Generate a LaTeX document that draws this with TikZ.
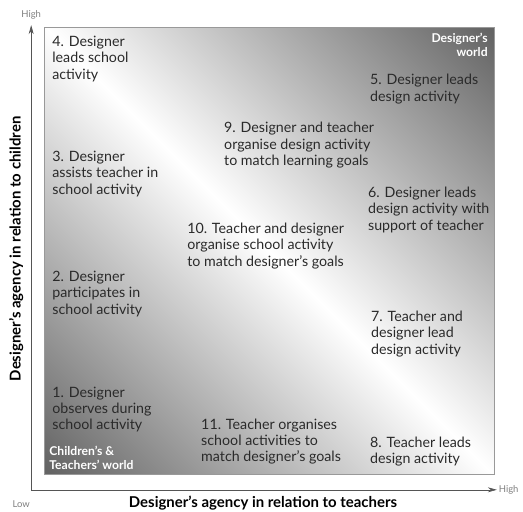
\documentclass[tikz,border=0pt]{standalone}
\usepackage{fontspec}
\setmainfont{Lato}
\usetikzlibrary{arrows.meta}

\definecolor{txt}{HTML}{2a2a2a}
\definecolor{shadedark}{HTML}{646464}
\definecolor{axisgray}{HTML}{555555}
\pgfdeclarehorizontalshading{agency}{100bp}{color(0bp)=(shadedark); color(15bp)=(shadedark); color(50bp)=(white); color(85bp)=(shadedark); color(100bp)=(shadedark)}

\tikzset{
  stage/.style={anchor=north west, inner sep=0pt, align=left, text=txt, font=\fontsize{14.3}{16.3}\selectfont},
  world/.style={inner sep=0pt, text=white, font=\fontsize{12.2}{14}\selectfont\bfseries},
  axistitle/.style={inner sep=0pt, text=black, font=\fontsize{15}{17}\selectfont\bfseries},
  level/.style={inner sep=0pt, text=gray, font=\fontsize{9.5}{11}\selectfont}
}

\begin{document}
\begin{tikzpicture}
\draw[fill=white,white](0,0) rectangle (18.451,18.062);

% shaded square
\shade[shading=agency,shading angle=45] (1.552,1.341) rectangle (17.427,17.110);
\draw[gray!80,line width=0.5pt] (1.552,1.341) rectangle (17.427,17.110);

% axes
\coordinate (origin) at (1.094,0.776);
\coordinate (ytip) at (1.094,17.180);
\coordinate (xtip) at (17.533,0.776);
\draw[axisgray,line width=0.6pt,-{Stealth[length=9pt,width=5pt]}] (origin) -- (ytip);
\draw[axisgray,line width=0.6pt,-{Stealth[length=9pt,width=5pt]}] (origin) -- (xtip);

\node[level] (hightop) at (1.094,17.533) {High};
\node[level,anchor=west] (highright) at (17.600,0.776) {High};
\node[level] (low) at (0.741,0.282) {Low};
\node[axistitle] (xtitle) at (9.278,0.318) {Designer’s agency in relation to teachers};
\node[axistitle,rotate=90] (ytitle) at (0.564,9.280) {Designer’s agency in relation to children};

% corner labels
\node[world,anchor=north east,align=right] (dworld) at (17.216,16.900) {Designer’s\\world};
\node[world,anchor=north west,align=left] (cworld) at (1.729,2.330) {Children’s \&\\Teachers’ world};

% stages
\node[stage] (s4) at (1.834,16.792) {4. Designer\\leads school\\activity};
\node[stage] (s5) at (13.053,15.452) {5. Designer leads\\design activity};
\node[stage] (s9) at (7.902,13.758) {9. Designer and teacher\\organise design activity\\to match learning goals};
\node[stage] (s3) at (1.834,12.735) {3. Designer\\assists teacher in\\school activity};
\node[stage] (s6) at (12.982,11.465) {6. Designer leads\\design activity with\\support of teacher};
\node[stage] (s10) at (6.597,10.195) {10. Teacher and designer\\organise school activity\\to match designer’s goals};
\node[stage] (s2) at (1.834,8.502) {2. Designer\\participates in\\school activity};
\node[stage] (s7) at (13.088,7.091) {7. Teacher and\\designer lead\\design activity};
\node[stage] (s1) at (1.834,4.410) {1. Designer\\observes during\\school activity};
\node[stage] (s11) at (7.091,3.281) {11. Teacher organises\\school activities to\\match designer’s goals};
\node[stage] (s8) at (13.053,2.646) {8. Teacher leads\\design activity};
\end{tikzpicture}
\end{document}
